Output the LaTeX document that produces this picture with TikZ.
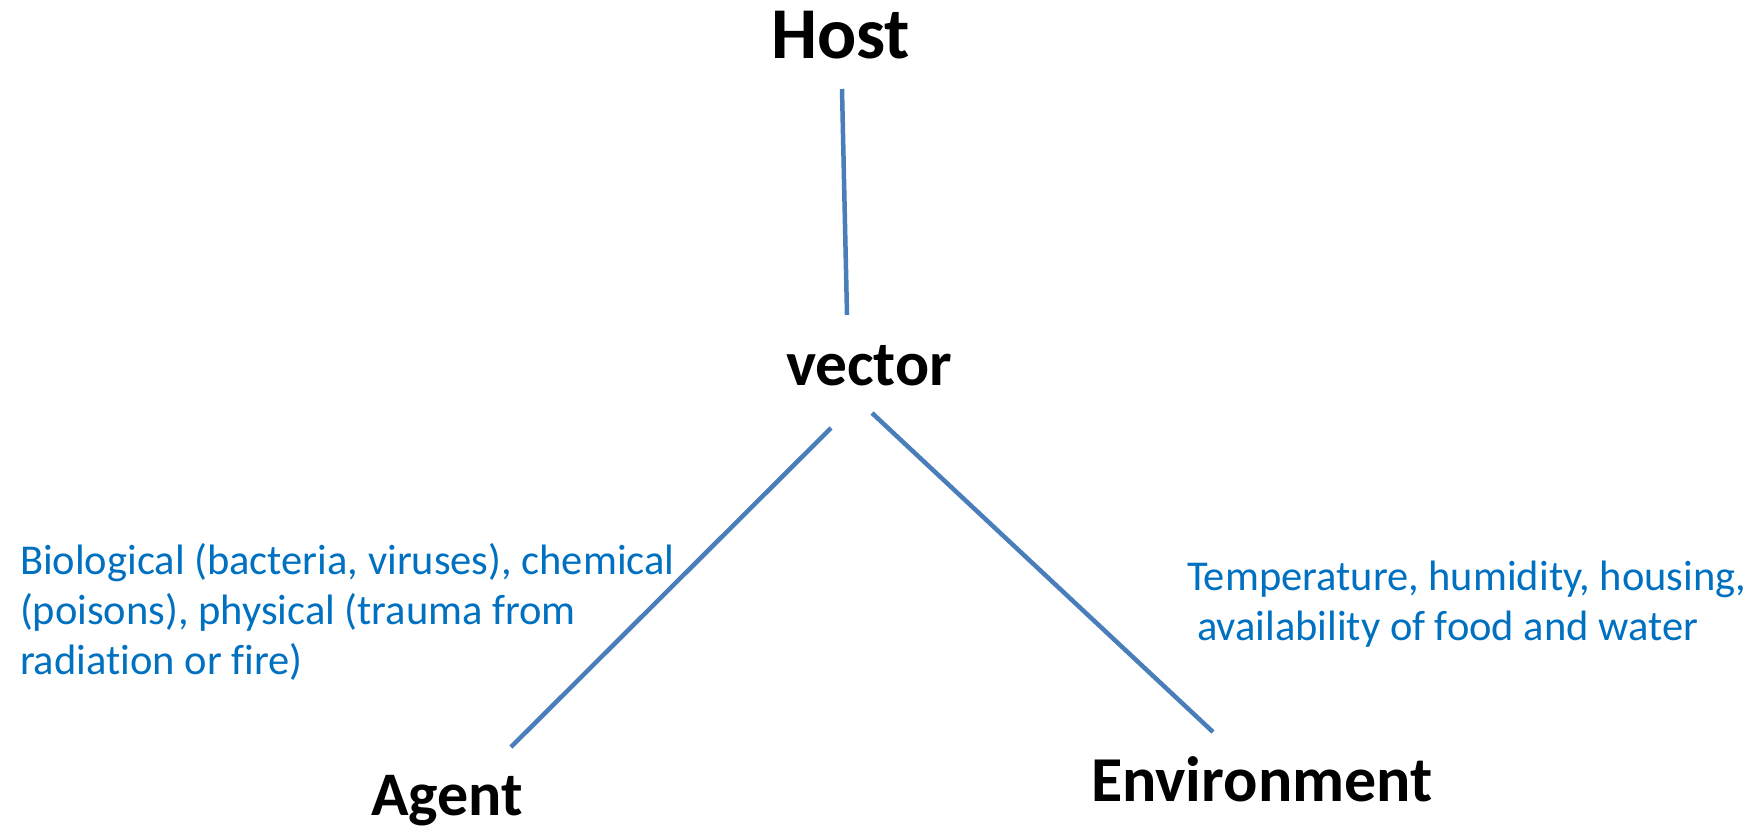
\documentclass[tikz,border=0pt]{standalone}
\usepackage{fontspec}
\setmainfont{Carlito}[Ligatures=NoCommon]
\definecolor{lineblue}{HTML}{4A7EBB}
\definecolor{textblue}{HTML}{0070C0}
\tikzset{
  conn/.style={draw=lineblue, line width=4.5pt},
  label/.style={inner sep=0pt, outer sep=0pt, anchor=base west, text=black},
  note/.style={inner sep=0pt, outer sep=0pt, anchor=base west, text=textblue, align=left,
    font=\fontsize{42.5}{50}\selectfont},
}
\begin{document}
\begin{tikzpicture}[x=1pt,y=-1pt]
\useasboundingbox (0,0) rectangle (1760,828);
\fill[white] (0,0) rectangle (1760,828);

\node[label, font=\bfseries\fontsize{73}{80}\selectfont] (host) at (771,58) {Host};
\node[label, font=\bfseries\fontsize{63.5}{72}\selectfont] (vector) at (786,385) {vector};
\node[label, font=\bfseries\fontsize{62}{70}\selectfont] (agent) at (371,815) {Agent};
\node[label, font=\bfseries\fontsize{64}{72}\selectfont] (env) at (1091,801) {Environment};

\node[note] (agentnote) at (20,674) {Biological (bacteria, viruses), chemical\\(poisons), physical (trauma from\\radiation or fire)};
\node[note] (envnote) at (1187,640) {Temperature, humidity, housing,\\\hspace*{10pt}availability of food and water};

\coordinate (hostend) at (842,89);
\coordinate (vectortop) at (847,315);
\coordinate (vectorleft) at (831,428);
\coordinate (agentend) at (511,747);
\coordinate (vectorright) at (872,413);
\coordinate (envend) at (1213,732);

\draw[conn] (hostend) -- (vectortop);
\draw[conn] (vectorleft) -- (agentend);
\draw[conn] (vectorright) -- (envend);
\end{tikzpicture}
\end{document}
